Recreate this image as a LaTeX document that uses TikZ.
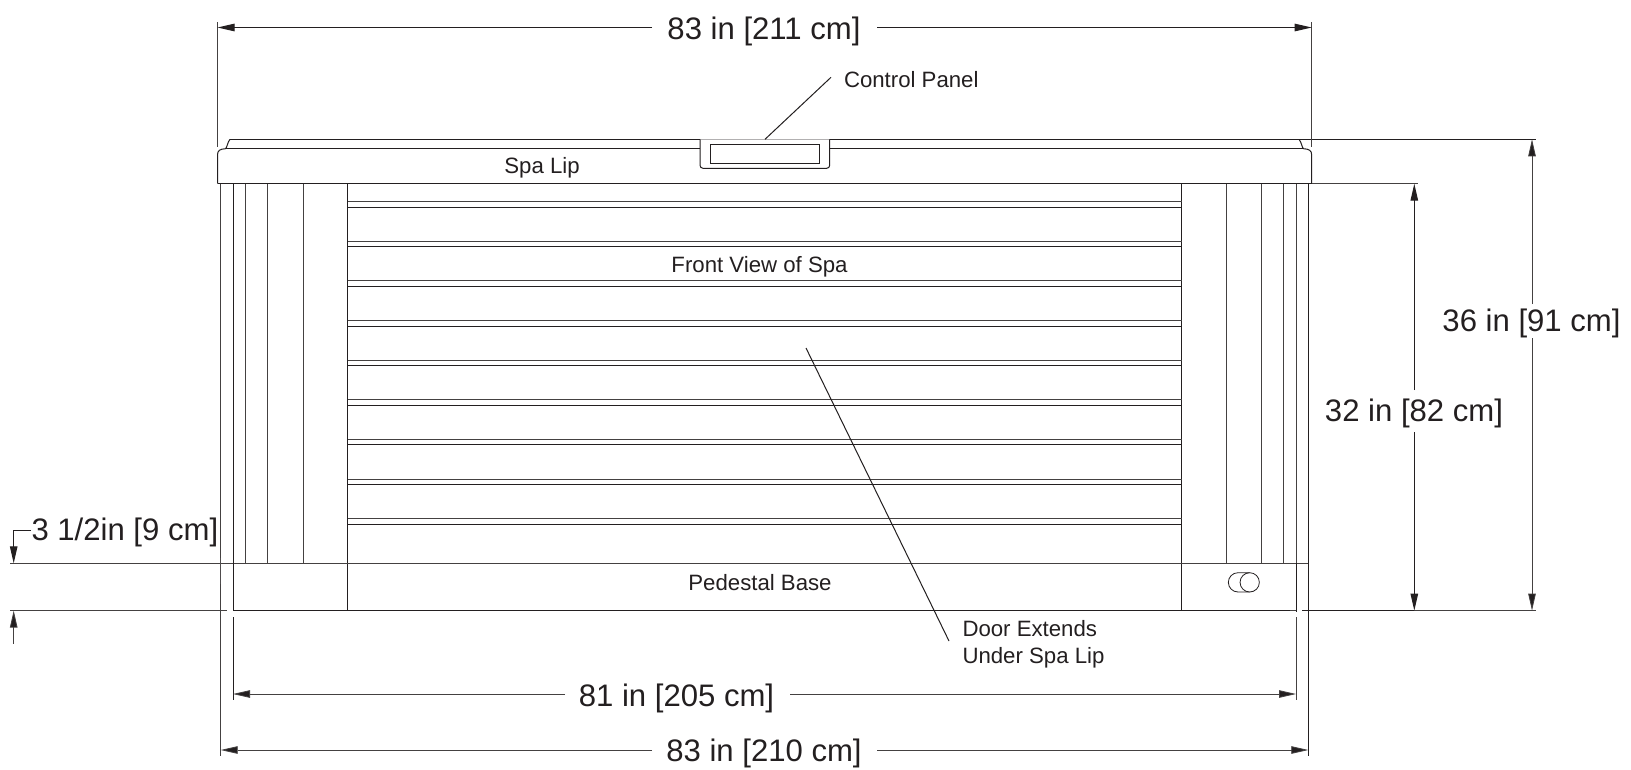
\documentclass[tikz,border=0pt]{standalone}
\usepackage{fontspec}
\setmainfont{Liberation Sans}
\usetikzlibrary{arrows.meta}
\definecolor{ink}{HTML}{231F20}
\tikzset{
  every path/.style={draw=ink,line width=1pt},
  dimtext/.style={text=ink,inner sep=0pt,font=\fontsize{31.1}{31.1}\selectfont},
  notetext/.style={text=ink,inner sep=0pt,font=\fontsize{22.2}{22.2}\selectfont},
  notetextl/.style={notetext,anchor=west},
  arr/.style={-{Triangle[length=17pt,width=7.5pt,fill=ink]}},
  thinl/.style={line width=.8pt,draw=ink!85},
}
\begin{document}
\begin{tikzpicture}[x=1pt,y=-1pt]
\path[draw=none,fill=white,use as bounding box] (0,0) rectangle (1631,769);
% spa lip
\draw (230,139.3) -- (1311.7,139.3);
\draw (217.5,183.7) -- (217.5,155) .. controls (217.5,150.5) and (220,149) .. (225.5,148.7)
      .. controls (227,148) and (227.5,142) .. (230,139.3);
\draw (1311.7,183.7) -- (1311.7,155) .. controls (1311.7,150.5) and (1309,149) .. (1303.5,148.7)
      .. controls (1302,148) and (1301.5,142) .. (1299,139.3);
\draw (225.5,148.7) -- (700,148.7) (829.7,148.7) -- (1303.5,148.7);
\draw (217.5,183.7) -- (1311.7,183.7);
% control panel
\draw[fill=white,rounded corners=3pt] (700,139.3) -- (700,168.3) -- (829.7,168.3) -- (829.7,139.3);
\node[draw,minimum width=108.3pt,minimum height=19.7pt,inner sep=0pt] (panel) at (764.85,153.85) {};
% end panels
\foreach \x in {233,245.7,267.7,303.3,1226,1261.7,1283.7,1296}
  \draw[thinl] (\x,183.7) -- (\x,563.3);
\draw (347.7,183.7) -- (347.7,610.5);
\draw (1181.7,183.7) -- (1181.7,610.5);
% slats
\foreach \y in {201,241,280.5,320,360,399.5,439.5,479,518.5}
  \draw[thinl] (347.7,\y) -- (1181.7,\y);
\foreach \y in {207.3,246.8,286,326,365.5,405,444.5,484,524}
  \draw (347.7,\y) -- (1181.7,\y);
% base
\coordinate (tl) at (10,563.3);
\coordinate (tr) at (1308.3,563.3);
\draw[thinl] (tl) -- (tr);
\draw[thinl] (10,610.6) -- (227,610.6);
\draw[line width=1.2pt] (233,610.6) -- (1290,610.6);
\draw[thinl] (1290,610.6) -- (1296.7,610.6);
\draw (1302,610.6) -- (1414,610.6);
\draw[thinl] (1414,610.6) -- (1536,610.6);
% base indicator
\draw[line width=.8pt] (1249.7,572.7) -- (1238,572.7) arc[start angle=270,end angle=90,radius=9.65] -- (1249.7,592);
\node[draw,circle,line width=.8pt,minimum size=19.3pt,inner sep=0pt] (indicator) at (1249.7,582.35) {};
% extension lines
\draw[thinl] (217.5,22) -- (217.5,147);
\draw[thinl] (1311.7,22) -- (1311.7,147);
\draw[thinl] (220.7,183.7) -- (220.7,756);
\draw[line width=1.4pt,draw=ink!80] (220.7,558) -- (220.7,584);
\draw (233,183.7) -- (233,610.6);
\draw (233,617) -- (233,700);
\draw (1296,563.3) -- (1296,612);
\draw[thinl] (1296,617) -- (1296,700);
\draw (1308.3,183.7) -- (1308.3,756);
\draw (1311.7,139.3) -- (1536,139.3);
\draw[thinl] (1311.7,183.7) -- (1418,183.7);
% labels
\node[dimtext] (top)  at (764,31.5) {83 in [211 cm]};
\node[dimtext] (bot)  at (764,753.5) {83 in [210 cm]};
\node[dimtext] (mid)  at (676.5,698) {81 in [205 cm]};
\node[dimtext] (h32)  at (1414,413) {32 in [82 cm]};
\node[dimtext] (h36)  at (1531.5,323) {36 in [91 cm]};
\node[dimtext,anchor=west] (base) at (31,532) {3 1/2in [9 cm]};
\node[notetext] (lip) at (542,167.5) {Spa Lip};
\node[notetext] (front) at (759.5,266.5) {Front View of Spa};
\node[notetext] (ped) at (760,582.5) {Pedestal Base};
\node[notetextl] (ctrl) at (843.5,79.5) {Control Panel};
\node[notetextl] (door1) at (962,629) {Door Extends};
\node[notetextl] (door2) at (962,658) {Under Spa Lip};
% dimension ends
\coordinate (a1) at (217.5,27.5); \coordinate (a2) at (1311.7,27.5);
\coordinate (b1) at (220.7,750); \coordinate (b2) at (1308.3,750);
\coordinate (c1) at (233,694); \coordinate (c2) at (1296,694);
\coordinate (d1) at (1414.3,183.7); \coordinate (d2) at (1414.3,610.6);
\coordinate (e1) at (1532,139.3); \coordinate (e2) at (1532,610.6);
\coordinate (k) at (13.7,530); \coordinate (k1) at (13.7,563.3);
\coordinate (k2) at (13.7,610.6); \coordinate (k3) at (13.7,643.5);
\coordinate (q1) at (652,27.5); \coordinate (q2) at (877,27.5);
\coordinate (r1) at (652,750); \coordinate (r2) at (877,750);
\coordinate (s1) at (565,694); \coordinate (s2) at (790,694);
\draw[arr] (q1) -- (a1); \draw[arr] (q2) -- (a2);
\draw[arr,thinl] (r1) -- (b1); \draw[arr,thinl] (r2) -- (b2);
\draw[arr,thinl] (s1) -- (c1); \draw[arr,thinl] (s2) -- (c2);
\coordinate (d3) at (1414.3,390); \coordinate (d4) at (1414.3,432);
\coordinate (e3) at (1532,304); \coordinate (e4) at (1532,338);
\draw[arr] (d3) -- (d1);
\draw[arr] (d4) -- (d2);
\draw[arr,thinl] (e3) -- (e1);
\draw[arr,thinl] (e4) -- (e2);
\coordinate (k0) at (31,530);
\draw[arr] (k0) -- (k) -- (k1);
\draw[arr,thinl] (k3) -- (k2);
% leaders
\coordinate (panelpt) at (765,139.3);
\coordinate (ctrlpt) at (831,77.3);
\draw (ctrlpt) -- (panelpt);
\coordinate (doorpt) at (806,348);
\coordinate (doorend) at (949,641);
\draw (doorpt) -- (doorend);
\end{tikzpicture}
\end{document}
